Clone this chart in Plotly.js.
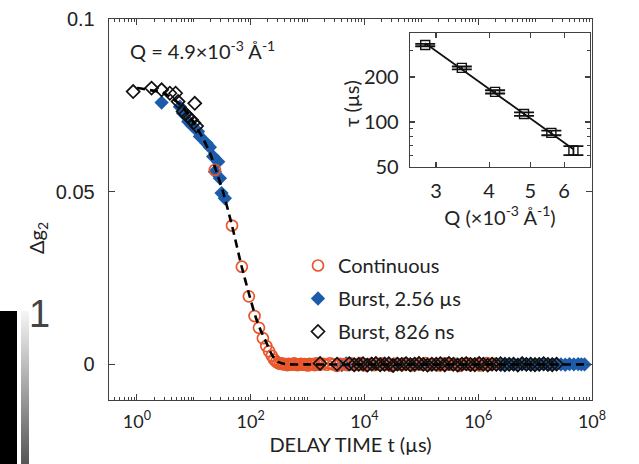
<!DOCTYPE html>
<html>
<head>
<meta charset="utf-8">
<script src="https://cdn.plot.ly/plotly-3.0.1.min.js"></script>
<style>html,body{margin:0;padding:0;background:#fff;}#chart{width:639px;height:464px;}</style>
</head>
<body>
<div id="chart"></div>
<script>
// ---------- Data ----------
// Continuous (open circles): delay time t (µs) and Δg2
const contT = [23.5,47,70,93,117,140,164,188,211,235,258,282,
  305,330,355,380,410,440,470,505,540,580,620,665,715,765,820,880,945,1010,1085,1160,1250,1340,1430,1540,1650,
  1890,2170,2490,2860,3290,3770,4330,4970,5710,6550,
  7520,8640,9920,1.14e4,1.31e4,1.5e4,1.72e4,1.98e4,2.27e4,2.61e4,
  2.99e4,3.43e4,3.94e4,4.53e4,5.2e4,5.97e4,6.85e4,7.87e4,9.03e4,1.04e5,
  1.19e5,1.37e5,1.57e5,1.8e5,2.07e5,2.37e5,2.73e5,3.13e5,3.59e5,4.12e5,
  4.73e5,5.44e5,6.24e5,7.17e5,8.23e5,9.45e5,1.08e6,1.24e6,1.43e6,1.64e6,1.88e6];
const contG = [0.0563,0.0402,0.0283,0.0197,0.0140,0.0106,0.0076,0.0053,0.0038,0.0025,0.0014,0.0008,
  0.0004,0.0002,0.0003,0.0000,0.0001,-0.0002,0.0002,0.0000,-0.0001,0.0003,0.0001,-0.0002,0.0000,0.0002,-0.0001,0.0001,0.0000,-0.0003,0.0002,0.0000,0.0001,-0.0002,0.0003,0.0000,-0.0001,
  0.0002,-0.0001,0.0003,0.0000,-0.0004,0.0002,0.0001,-0.0002,0.0003,-0.0001,
  0.0000,0.0004,-0.0003,0.0001,0.0002,-0.0002,0.0000,0.0003,-0.0001,0.0001,
  -0.0004,0.0002,0.0000,-0.0002,0.0003,0.0001,-0.0003,0.0002,0.0000,-0.0001,
  0.0004,-0.0002,0.0001,0.0000,-0.0003,0.0002,0.0003,-0.0001,0.0000,0.0002,
  -0.0004,0.0001,0.0003,-0.0002,0.0000,0.0002,-0.0003,0.0001,0.0004,-0.0001,0.0002];

// Burst, 2.56 µs (filled blue diamonds)
const b256T = [2.72,5.7,6.5,8.0,9.1,11.9,12.8,16.8,19.2,21.9,26.9,23.5,28.8,30.8,35.2,
  4000,4760,5660,6740,8020,9540,1.14e4,1.35e4,1.61e4,1.91e4,
  2.28e4,2.71e4,3.22e4,3.83e4,4.56e4,5.43e4,6.46e4,7.69e4,9.15e4,1.09e5,
  1.3e5,1.54e5,1.84e5,2.18e5,2.6e5,3.09e5,3.68e5,4.38e5,5.21e5,6.2e5,
  7.38e5,8.78e5,1.04e6,1.24e6,1.48e6,1.76e6,2.09e6,2.49e6,2.96e6,3.53e6,
  4.2e6,5e6,5.95e6,7.08e6,8.42e6,1e7,1.19e7,1.42e7,1.69e7,2.01e7,
  2.39e7,2.85e7,3.39e7,4.03e7,4.8e7,5.71e7,6.5e7,7.4e7];
const b256G = [0.0758,0.0746,0.0727,0.0703,0.0693,0.0674,0.0660,0.0640,0.0629,0.0602,0.0587,0.0558,0.0539,0.0496,0.0481,
  -0.0002,0.0003,0.0001,-0.0001,0.0002,0.0000,-0.0003,0.0002,0.0001,0.0000,
  0.0003,-0.0002,0.0000,0.0001,-0.0001,0.0002,0.0000,-0.0002,0.0003,0.0001,
  0.0000,-0.0001,0.0002,0.0000,-0.0003,0.0001,0.0002,-0.0001,0.0000,0.0003,
  -0.0002,0.0001,0.0000,0.0002,-0.0001,0.0001,0.0000,-0.0002,0.0002,0.0001,
  0.0000,-0.0001,0.0003,0.0000,-0.0002,0.0001,0.0000,0.0002,-0.0001,0.0000,
  0.0001,0.0000,-0.0001,0.0001,0.0000,0.0001,0.0000,0.0000];

// Burst, 826 ns (open black diamonds)
const b826T = [0.86,1.81,2.72,3.8,4.8,5.3,10.4,6.5,8.0,9.1,7.2,10.0,11.2,
  1660,3300,5400,6600,
  7940,9450,1.12e4,1.34e4,1.59e4,1.89e4,2.25e4,2.68e4,3.19e4,3.8e4,
  4.52e4,5.38e4,6.4e4,7.62e4,9.07e4,1.08e5,1.28e5,1.53e5,1.82e5,2.16e5,
  2.57e5,3.06e5,3.64e5,4.34e5,5.16e5,6.14e5,7.31e5,8.7e5,1.04e6,1.23e6,
  1.47e6,1.75e6,2.08e6,2.47e6,2.94e6,3.5e6,4.17e6,4.96e6,5.9e6,7.02e6,
  8.35e6,9.94e6,1.18e7,1.41e7,1.68e7,2e7,2.38e7];
const b826G = [0.0790,0.0800,0.0795,0.0785,0.0785,0.0761,0.0756,0.0732,0.0717,0.0708,0.0725,0.0700,0.0690,
  0.0003,0.0001,0.0002,-0.0001,
  0.0000,0.0002,-0.0002,0.0001,0.0003,-0.0001,0.0000,0.0002,-0.0003,0.0001,
  0.0000,0.0002,-0.0001,0.0001,0.0003,0.0000,-0.0002,0.0001,0.0000,0.0002,
  -0.0001,0.0003,0.0000,-0.0002,0.0001,0.0002,0.0000,-0.0001,0.0003,0.0000,
  -0.0002,0.0001,0.0000,0.0002,-0.0001,0.0000,0.0001,-0.0002,0.0002,0.0000,
  0.0001,-0.0001,0.0000,0.0002,0.0000,-0.0001,0.0001];

// Fit curve (dashed)
const fitT = [1,3,6,10,15,20,25,32,47,69,97,122,149,183,233,285,400,1000,7.9e7];
const fitG = [0.0800,0.0785,0.0750,0.0700,0.0650,0.0605,0.0558,0.0505,0.0402,0.0285,0.0195,0.0138,0.0100,0.0068,0.0030,0.0010,0.0001,0,0];

// Inset: relaxation time vs Q
const insetQ = [2.83,3.45,4.13,4.83,5.6,6.31];
const insetTau = [327,230,159,113,84.5,64.5];
const insetTauErr = [6,5,4,3,3,4.5];

// Tick labels
const xTickVals = [1,1e2,1e4,1e6,1e8];
const xTickText = ['10<sup>0</sup>','10<sup>2</sup>','10<sup>4</sup>','10<sup>6</sup>','10<sup>8</sup>'];
const yTickVals = [0,0.05,0.1];
const yTickText = ['0','0.05','0.1'];
const insetXTicks = [3,4,5,6];
const insetYTicks = [50,100,200];

// ---------- Helpers ----------
const FONT = 'Lato, "Open Sans", sans-serif';
const ARIAL = '"Liberation Sans", Arial, sans-serif';
const AX = '#404040';

// minor ticks of log x axis
const xMinor = [];
for (let n = -1; n < 8; n++) for (let k = 1; k <= 9; k++) {
  if (k === 1 && n % 2 === 0) continue;
  xMinor.push(k * Math.pow(10, n));
}

// power-law least-squares fit through inset data (log-log)
const lx = insetQ.map(Math.log10), ly = insetTau.map(Math.log10);
const mx = lx.reduce((a,b)=>a+b,0)/lx.length, my = ly.reduce((a,b)=>a+b,0)/ly.length;
let sxy=0, sxx=0; for (let i=0;i<lx.length;i++){sxy+=(lx[i]-mx)*(ly[i]-my);sxx+=(lx[i]-mx)**2;}
const slope = sxy/sxx, icpt = my - slope*mx;
const fitQ = [insetQ[0], insetQ[insetQ.length-1]];
const fitTau = fitQ.map(q => Math.pow(10, icpt + slope*Math.log10(q)));

const traces = [
  {x: b256T, y: b256G, type:'scatter', mode:'markers', name:'Burst, 2.56 µs',
   legendgroup:'b', legendrank:2,
   marker:{symbol:'diamond', size:11, color:'#1C5CAB', line:{width:0}}},
  {x: contT, y: contG, type:'scatter', mode:'markers', name:'Continuous',
   legendgroup:'a', legendrank:1,
   marker:{symbol:'circle-open', size:11, color:'#E8562C', line:{width:1.7}}},
  {x: b826T, y: b826G, type:'scatter', mode:'markers', name:'Burst, 826 ns',
   legendgroup:'c', legendrank:3,
   marker:{symbol:'diamond-open', size:10, color:'#111111', line:{width:1.7}}},
  {x: fitT, y: fitG, type:'scatter', mode:'lines', showlegend:false,
   line:{color:'#000', width:2.6, dash:'8px,5px', shape:'spline', smoothing:0.6}},
  // inset
  {x: fitQ, y: fitTau, xaxis:'x2', yaxis:'y2', type:'scatter', mode:'lines', showlegend:false,
   line:{color:'#111', width:1.7}},
  {x: insetQ, y: insetTau, xaxis:'x2', yaxis:'y2', type:'scatter', mode:'markers', showlegend:false,
   error_y:{type:'data', array:insetTauErr, visible:true, width:10, thickness:1.8, color:'#111'},
   marker:{symbol:'square-open', size:9, color:'#111', line:{width:1.4}}}
];

const px = v => (v - 109) / 483;
const py = v => (400 - v) / 381;

const gradSvg = '<svg xmlns="http://www.w3.org/2000/svg" width="8" height="153" preserveAspectRatio="none">' +
  '<defs><linearGradient id="g" x1="0" y1="0" x2="0" y2="1">' +
  '<stop offset="0" stop-color="#f6f6f6"/><stop offset="1" stop-color="#4e4e4e"/></linearGradient></defs>' +
  '<rect width="8" height="153" fill="url(#g)"/></svg>';

const layout = {
  width: 639, height: 464,
  margin: {l:109, r:47, t:19, b:64, pad:0},
  paper_bgcolor:'#fff', plot_bgcolor:'#fff',
  showlegend: true,
  font: {family: FONT, size: 20, color:'#222'},
  xaxis: {
    type:'log', range:[-0.49, 8.0], domain:[0,1],
    tickmode:'array', tickvals:xTickVals, ticktext:xTickText,
    tickfont:{family:FONT, size:18, color:'#222'},
    ticks:'inside', ticklen:6, tickwidth:1.2, tickcolor:AX,
    minor:{tickmode:'array', tickvals:xMinor, ticks:'inside', ticklen:3, tickwidth:1, tickcolor:AX},
    showline:true, linecolor:AX, linewidth:1.3, mirror:'ticks',
    showgrid:false, zeroline:false, ticklabelstandoff:5,
    title:{text:'DELAY TIME t (µs)', font:{family:FONT, size:20, color:'#222'}, standoff:6}
  },
  yaxis: {
    range:[-0.0103, 0.1], domain:[0,1],
    tickmode:'array', tickvals:yTickVals, ticktext:yTickText,
    tickfont:{family:ARIAL, size:20, color:'#222'},
    ticks:'inside', ticklen:6, tickwidth:1.2, tickcolor:AX,
    showline:true, linecolor:AX, linewidth:1.3, mirror:'ticks',
    showgrid:false, zeroline:false, ticklabelstandoff:9
  },
  xaxis2: {
    type:'log', range:[0.416, 0.839], domain:[px(410), px(590)], anchor:'y2',
    tickmode:'array', tickvals:insetXTicks, ticktext:insetXTicks.map(String),
    tickfont:{family:FONT, size:20, color:'#222'},
    ticks:'inside', ticklen:5, tickwidth:1.2, tickcolor:AX,
    showline:true, linecolor:AX, linewidth:1.3, mirror:'ticks',
    showgrid:false, zeroline:false, ticklabelstandoff:6,
    title:{text:'Q (×10<sup>-3</sup> Å<sup>-1</sup>)', font:{family:FONT, size:20, color:'#222'}, standoff:2}
  },
  yaxis2: {
    type:'log', range:[1.699, 2.595], domain:[py(167), py(33)], anchor:'x2',
    tickmode:'array', tickvals:insetYTicks, ticktext:insetYTicks.map(String),
    tickfont:{family:FONT, size:20, color:'#222'},
    ticks:'inside', ticklen:5, tickwidth:1.2, tickcolor:AX,
    minor:{tickmode:'array', tickvals:[60,70,80,90,300], ticks:'inside', ticklen:3, tickwidth:1, tickcolor:AX},
    showline:true, linecolor:AX, linewidth:1.3, mirror:'ticks',
    showgrid:false, zeroline:false, ticklabelstandoff:6
  },
  legend: {
    x: px(298), y: py(246), xanchor:'left', yanchor:'top',
    bgcolor:'rgba(0,0,0,0)', borderwidth:0,
    font:{family:FONT, size:20, color:'#222'},
    tracegroupgap: 4, itemwidth:30
  },
  annotations: [
    {text:'Q = 4.9×10<sup>-3</sup> Å<sup>-1</sup>', xref:'paper', yref:'paper',
     x: px(128), y: py(50), xanchor:'left', yanchor:'middle', showarrow:false,
     font:{family:FONT, size:20, color:'#222'}},
    {text:'Δg<sub>2</sub>', xref:'paper', yref:'paper', x: px(37), y: py(238), textangle:-90,
     xanchor:'center', yanchor:'middle', showarrow:false,
     font:{family:FONT, size:20, color:'#222'}},
    {text:'τ (µs)', xref:'paper', yref:'paper', x: px(351), y: py(104), textangle:-90,
     xanchor:'center', yanchor:'middle', showarrow:false,
     font:{family:FONT, size:20, color:'#222'}},
    {text:'1', xref:'paper', yref:'paper', x: px(39), y: py(314), xanchor:'center', yanchor:'middle',
     showarrow:false, font:{family:ARIAL, size:38, color:'#444'}}
  ],
  shapes: [
    {type:'rect', xref:'paper', yref:'paper', x0: px(0), x1: px(17), y0: py(470), y1: py(311),
     fillcolor:'#000', line:{width:0}, layer:'above'}
  ],
  images: [
    {source:'data:image/svg+xml;utf8,' + encodeURIComponent(gradSvg), xref:'paper', yref:'paper',
     x: px(21), y: py(311), sizex: 8/483, sizey: 160/381, sizing:'stretch',
     xanchor:'left', yanchor:'top', layer:'above'}
  ]
};

Plotly.newPlot('chart', traces, layout, {displayModeBar:false, staticPlot:true});
</script>
</body>
</html>
